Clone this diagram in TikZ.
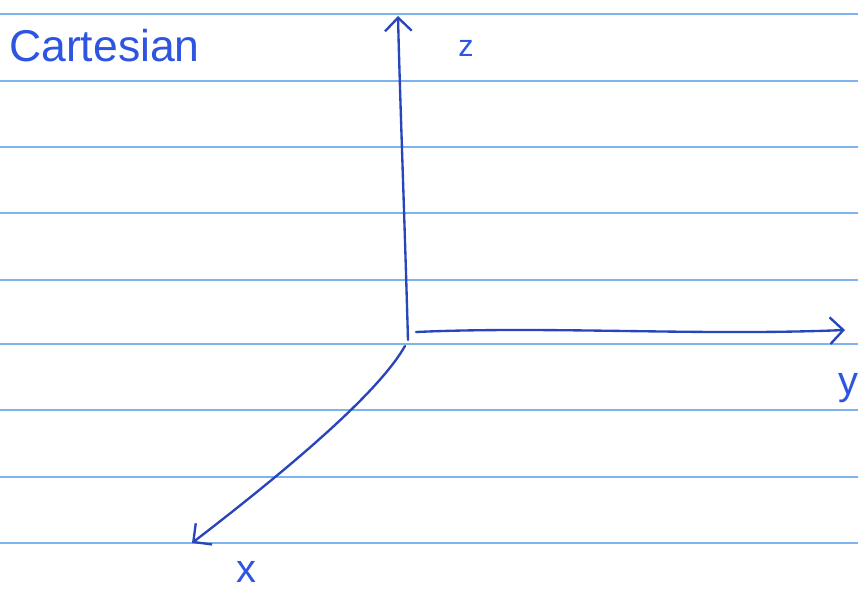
\documentclass[tikz,border=0pt]{standalone}
\usepackage{fontspec}
\setmainfont{Liberation Sans}
\usetikzlibrary{arrows.meta}
\definecolor{ruleblue}{RGB}{125,180,235}
\definecolor{penblue}{RGB}{40,70,185}
\definecolor{labelblue}{RGB}{45,85,225}

\begin{document}
\begin{tikzpicture}[
  x=0.03cm, y=-0.03cm,
  rule/.style={ruleblue, line width=2.2pt},
  axis/.style={penblue, line width=2pt, line cap=round, -{Straight Barb[length=4mm, width=8mm, line width=2pt]}},
  lbl/.style={labelblue, font=\fontsize{26}{28}\selectfont, inner sep=0pt},
]
  \fill[white] (0,0) rectangle (858,591);
  \useasboundingbox (0,0) rectangle (858,591);

  % lined paper
  \foreach \y in {14,81,147,213,280,344,410,477,543}
    \draw[rule] (0,\y) -- (858,\y);

  \node[lbl, anchor=west, font=\fontsize{38}{40}\selectfont] (title) at (9,46) {Cartesian};

  \coordinate (origin) at (408,340);
  \coordinate (ystart) at (416,332);
  \coordinate (xstart) at (405,346);
  \coordinate (ztip) at (398,16);
  \coordinate (ytip) at (845,330);
  \coordinate (xtip) at (192,543);

  \node[lbl] (zlabel) at (466,48) {z};
  \node[lbl, font=\fontsize{34}{36}\selectfont] (ylabel) at (848,388) {y};
  \node[lbl, font=\fontsize{34}{36}\selectfont] (xlabel) at (246,572) {x};

  \draw[axis] (origin) .. controls (404,200) and (400,100) .. (ztip);
  \draw[axis] (ystart) .. controls (550,326) and (700,336) .. (ytip);
  \draw[axis] (xstart) .. controls (380,390) and (300,460) .. (xtip);
\end{tikzpicture}
\end{document}
